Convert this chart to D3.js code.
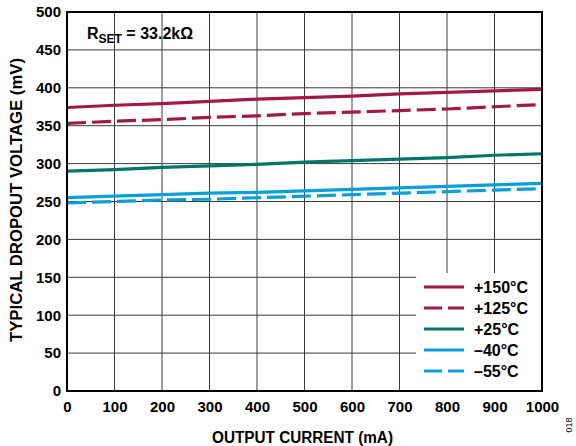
<!DOCTYPE html>
<html><head><meta charset="utf-8">
<script src="https://cdn.jsdelivr.net/npm/d3@7"></script>
<style>body{margin:0;background:#fff}svg{display:block;font-family:"Liberation Sans",Arial,sans-serif}</style>
</head><body><svg id="c" width="576" height="446"></svg>
<script>
const xVals = [0,100,200,300,400,500,600,700,800,900,1000];
const s150 = [374,377,379,382,385,387,389,392,394,396,398];
const s125 = [353,356,358,361,363,366,368,370,372,375,378];
const s25  = [290,292,295,297,299,302,304,306,308,311,313];
const sm40 = [255,257,259,261,262,264,266,268,270,272,274];
const sm55 = [248,250,252,253,255,257,259,261,263,265,267];
const seriesNames = ["+150°C","+125°C","+25°C","–40°C","–55°C"];
const seriesColors = ["#A01A45","#A01A45","#00766A","#0A9FD6","#0A9FD6"];
const seriesDashed = [false,true,false,false,true];
const xTicks = [0,100,200,300,400,500,600,700,800,900,1000];
const yTicks = [0,50,100,150,200,250,300,350,400,450,500];
const allSeries = [s150,s125,s25,sm40,sm55];

const svg = d3.select("#c");
const L=67,R=542,T=12,B=391;
const x = d3.scaleLinear().domain([0,1000]).range([L,R]);
const y = d3.scaleLinear().domain([0,500]).range([B,T]);

// grid
svg.append("g").selectAll("line").data(xTicks.slice(1,-1)).join("line")
 .attr("x1",d=>x(d)).attr("x2",d=>x(d)).attr("y1",T).attr("y2",B)
 .attr("stroke","#3a3a3a").attr("stroke-width",1);
svg.append("g").selectAll("line").data(yTicks.slice(1,-1)).join("line")
 .attr("x1",L).attr("x2",R).attr("y1",d=>y(d)).attr("y2",d=>y(d))
 .attr("stroke","#3a3a3a").attr("stroke-width",1);

// axes tick labels
const xa = d3.axisBottom(x).tickValues(xTicks).tickFormat(d3.format("d")).tickSize(0).tickPadding(10);
const gx = svg.append("g").attr("transform",`translate(0,${B})`).call(xa);
gx.select(".domain").remove();
gx.selectAll("text").attr("font-size",15).attr("font-weight","bold").attr("fill","#000").attr("font-family","Liberation Sans, Arial, sans-serif");
const ya = d3.axisLeft(y).tickValues(yTicks).tickFormat(d3.format("d")).tickSize(0).tickPadding(6);
const gy = svg.append("g").attr("transform",`translate(${L},0)`).call(ya);
gy.select(".domain").remove();
gy.selectAll("text").attr("font-size",15).attr("font-weight","bold").attr("fill","#000").attr("font-family","Liberation Sans, Arial, sans-serif");

// lines
const line = d3.line().x((d,i)=>x(xVals[i])).y(d=>y(d));
allSeries.forEach((s,i)=>{
  svg.append("path").datum(s).attr("d",line).attr("fill","none")
   .attr("stroke",seriesColors[i]).attr("stroke-width",3.2)
   .attr("stroke-dasharray",seriesDashed[i]?"19,6":null);
});

// legend
const lg = svg.append("g");
lg.append("rect").attr("x",416).attr("y",273).attr("width",R-416).attr("height",B-273).attr("fill","#fff");
seriesNames.forEach((n,i)=>{
  const yy = 287 + i*21;
  lg.append("line").attr("x1",424).attr("x2",464).attr("y1",yy).attr("y2",yy)
    .attr("stroke",seriesColors[i]).attr("stroke-width",3.2)
    .attr("stroke-dasharray",seriesDashed[i]?"18,6":null);
  lg.append("text").attr("x",474).attr("y",yy+6).text(n)
    .attr("font-size",16).attr("font-weight","bold");
});

// border
svg.append("rect").attr("x",L).attr("y",T).attr("width",R-L).attr("height",B-T)
 .attr("fill","none").attr("stroke","#000").attr("stroke-width",2);

// annotation
const ann = svg.append("text").attr("x",87).attr("y",39).attr("font-size",16).attr("font-weight","bold");
ann.append("tspan").text("R");
ann.append("tspan").text("SET").attr("font-size",12).attr("dy",4);
ann.append("tspan").text(" = 33.2kΩ").attr("dy",-4);

// axis titles
svg.append("text").attr("x",302.5).attr("y",443).attr("text-anchor","middle")
 .attr("font-size",16).attr("font-weight","bold").attr("textLength",181).attr("lengthAdjust","spacingAndGlyphs")
 .text("OUTPUT CURRENT (mA)");
svg.append("text").attr("transform",`translate(22,200) rotate(-90)`).attr("text-anchor","middle")
 .attr("font-size",16).attr("font-weight","bold").attr("textLength",284).attr("lengthAdjust","spacingAndGlyphs")
 .text("TYPICAL DROPOUT VOLTAGE (mV)");
svg.append("text").attr("transform","translate(572,425) rotate(-90)").attr("text-anchor","middle")
 .attr("font-size",9).attr("fill","#000").text("018");
</script></body></html>
